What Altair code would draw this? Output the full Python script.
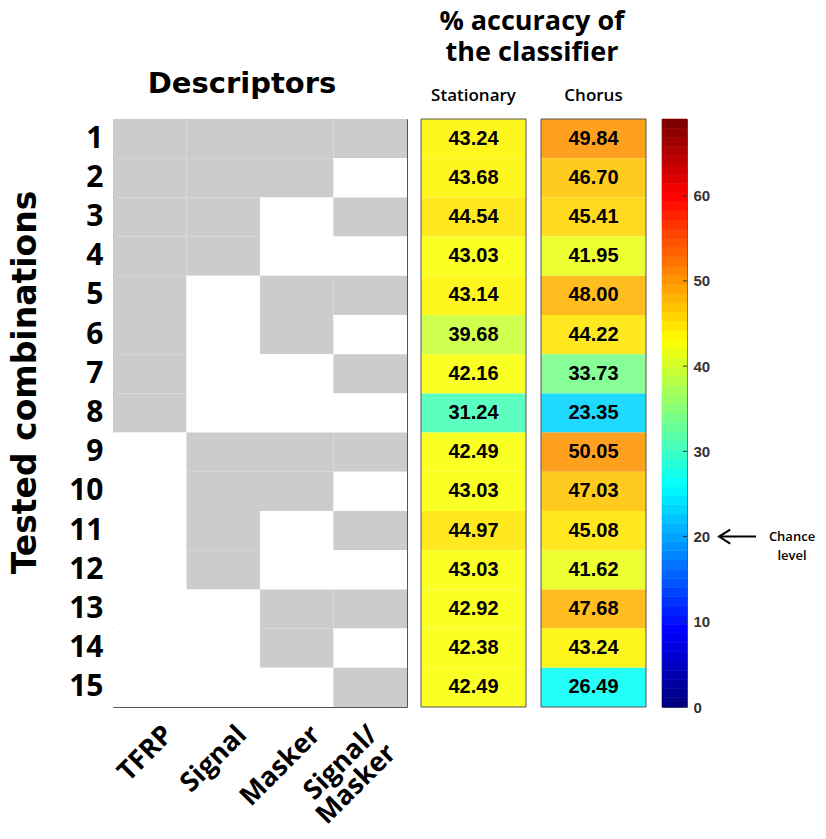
import altair as alt
import pandas as pd
import numpy as np

# ---------------- data ----------------
descriptors = ["TFRP", "Signal", "Masker", "Signal/Masker"]
combinations = list(range(1, 16))
included = [
    [1, 1, 1, 1], [1, 1, 1, 0], [1, 1, 0, 1], [1, 1, 0, 0],
    [1, 0, 1, 1], [1, 0, 1, 0], [1, 0, 0, 1], [1, 0, 0, 0],
    [0, 1, 1, 1], [0, 1, 1, 0], [0, 1, 0, 1], [0, 1, 0, 0],
    [0, 0, 1, 1], [0, 0, 1, 0], [0, 0, 0, 1],
]
conditions = ["Stationary", "Chorus"]
stationary = [43.24, 43.68, 44.54, 43.03, 43.14, 39.68, 42.16, 31.24,
              42.49, 43.03, 44.97, 43.03, 42.92, 42.38, 42.49]
chorus = [49.84, 46.70, 45.41, 41.95, 48.00, 44.22, 33.73, 23.35,
          50.05, 47.03, 45.08, 41.62, 47.68, 43.24, 26.49]
cbar_max = 69
cbar_ticks = [0, 10, 20, 30, 40, 50, 60]
chance = 20

# ---------------- colormap (jet, 64 levels) ----------------
n_levels = 64
xs = np.arange(n_levels) / (n_levels - 1)
r = np.clip(np.minimum(4 * xs - 1.5, -4 * xs + 4.5), 0, 1)
g = np.clip(np.minimum(4 * xs - 0.5, -4 * xs + 3.5), 0, 1)
b = np.clip(np.minimum(4 * xs + 0.5, -4 * xs + 2.5), 0, 1)
jet = ["#%02x%02x%02x" % (int(round(rr * 255)), int(round(gg * 255)), int(round(bb * 255)))
       for rr, gg, bb in zip(r, g, b)]
color_scale = alt.Scale(type="quantize", domain=[0, cbar_max], range=jet, nice=False, zero=False)

FONT = "Open Sans"
WIDE = "DejaVu Sans"
NUMFONT = "Liberation Sans"
H = 588

# ---------------- descriptor matrix ----------------
mat_df = pd.DataFrame([
    {"descriptor": d, "combo": c, "included": included[i][j]}
    for i, c in enumerate(combinations) for j, d in enumerate(descriptors)
])

mat = alt.Chart(mat_df).mark_rect().encode(
    x=alt.X("descriptor:N", sort=descriptors,
            scale=alt.Scale(paddingInner=0, paddingOuter=0),
            axis=alt.Axis(title=None, orient="bottom", labelAngle=-45, ticks=False, domain=False,
                          labelFont=FONT, labelFontWeight="bold", labelFontSize=27,
                          labelAlign="right", labelBaseline="top",
                          labelOffset={"condition": {"test": "datum.value == 'Signal/Masker'",
                                                     "value": -6},
                                       "value": 10},
                          labelPadding=14, labelColor="black", labelLineHeight=26,
                          labelExpr="datum.label == 'Signal/Masker' ? ['Signal/', 'Masker'] : datum.label")),
    y=alt.Y("combo:O", sort=combinations,
            axis=alt.Axis(title="Tested combinations", titleFont=WIDE, titleFontSize=33,
                          titleFontWeight="bold", titleColor="black",
                          titleX=-88, titleY=263, titleAlign="center", titleBaseline="middle",
                          titleAngle=-90,
                          labelFont=FONT, labelFontWeight="bold", labelFontSize=30,
                          labelColor="black", ticks=False, domain=False, labelPadding=10)),
    color=alt.Color("included:N", scale=alt.Scale(domain=[0, 1], range=["#ffffff", "#cccccc"]),
                    legend=None),
).properties(
    width=294, height=H,
    view=alt.ViewBackground(stroke="#555555", strokeWidth=1),
    title=alt.TitleParams("Descriptors", font=WIDE, fontSize=29, fontWeight="bold",
                          color="black", dx=-18, offset=20),
)

# ---------------- accuracy heatmap ----------------
heat_df = pd.DataFrame(
    [{"cond": "Stationary", "combo": c, "value": v} for c, v in zip(combinations, stationary)]
    + [{"cond": "Chorus", "combo": c, "value": v} for c, v in zip(combinations, chorus)]
)
xband = alt.Scale(domain=conditions, range=[0, 225], paddingInner=0.125, paddingOuter=0)
xaxis = alt.Axis(title=None, orient="top", ticks=False, domain=False, labelAngle=0,
                 labelFont=FONT, labelFontWeight=600, labelFontSize=17,
                 labelColor="black", labelPadding=15)

base = alt.Chart(heat_df).encode(
    x=alt.X("cond:N", sort=conditions, scale=xband, axis=xaxis),
    y=alt.Y("combo:O", sort=combinations, axis=None),
)
cells = base.mark_rect(opacity=0.88).encode(color=alt.Color("value:Q", scale=color_scale, legend=None))
labels = base.mark_text(font=NUMFONT, fontWeight="bold", fontSize=20, color="black").encode(
    text=alt.Text("value:Q", format=".2f"))
borders = alt.Chart(pd.DataFrame({"cond": conditions})).mark_rect(
    fillOpacity=0, stroke="#555555", strokeWidth=1).encode(
    x=alt.X("cond:N", sort=conditions, scale=xband, axis=xaxis))

heat = alt.layer(cells, labels, borders).properties(
    width=228, height=H,
    title=alt.TitleParams(["% accuracy of", "the classifier"], font=FONT, fontSize=27,
                          fontWeight="bold", color="black", lineHeight=31, offset=19, dx=-3),
)

# ---------------- colorbar ----------------
edges = np.linspace(0, cbar_max, n_levels + 1)
cb_df = pd.DataFrame({"lo": edges[:-1], "hi": edges[1:], "mid": (edges[:-1] + edges[1:]) / 2})
yscale = alt.Scale(domain=[0, cbar_max], nice=False, zero=False)
yaxis = alt.Axis(orient="right", values=cbar_ticks, ticks=False, domain=False, grid=False,
                 title=None, labelFont=NUMFONT, labelFontWeight="bold", labelFontSize=15,
                 labelColor="#333333", labelPadding=6)

cb = alt.Chart(cb_df).mark_rect(strokeWidth=0.6).encode(
    y=alt.Y("lo:Q", scale=yscale, axis=yaxis),
    y2="hi",
    color=alt.Color("mid:Q", scale=color_scale, legend=None),
    stroke=alt.Stroke("mid:Q", scale=color_scale, legend=None),
)
tick_df = pd.DataFrame({"v": cbar_ticks})
cb_ticks = alt.Chart(tick_df).mark_rule(color="#333333", strokeWidth=1).encode(
    y=alt.Y("v:Q", scale=yscale, axis=yaxis), x=alt.value(21), x2=alt.value(25))

chance_df = pd.DataFrame({"v": [chance], "txt": ["Chance\nlevel"]})
arrow_line = alt.Chart(chance_df).mark_rule(color="black", strokeWidth=2).encode(
    y=alt.Y("v:Q", scale=yscale, axis=yaxis), x=alt.value(58), x2=alt.value(94))
arrow_head = alt.Chart(chance_df).mark_point(
    shape="M0.6,-1L-1,0L0.6,1", filled=False, stroke="black", strokeWidth=2, size=196, opacity=1
).encode(y=alt.Y("v:Q", scale=yscale, axis=yaxis), x=alt.value(64))
chance_txt = alt.Chart(chance_df).mark_text(
    font=FONT, fontSize=13, fontWeight=600, color="black", lineBreak="\n", lineHeight=19,
    align="center", baseline="middle").encode(
    y=alt.Y("v:Q", scale=yscale, axis=yaxis), x=alt.value(130), text="txt:N")

cbar = alt.layer(cb, cb_ticks, arrow_line, arrow_head, chance_txt).properties(
    width=25, height=H, view=alt.ViewBackground(stroke="#555555", strokeWidth=1))

chart = alt.hconcat(mat, heat, cbar, spacing=12).properties(
    padding={"left": 0, "top": 0, "right": 0, "bottom": 0}
).configure_view(strokeWidth=0)

chart.save("out.html", embed_options={"renderer": "svg", "actions": False})
